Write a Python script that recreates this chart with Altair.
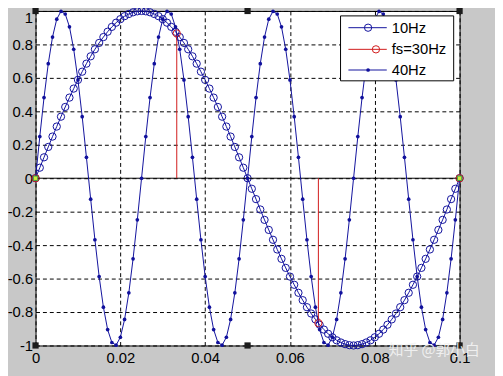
import altair as alt
import pandas as pd

# sample times in ms (0:1:100 ms -> 0..0.1 s)
t_ms = [0, 1, 2, 3, 4, 5, 6, 7, 8, 9, 10, 11, 12, 13, 14, 15, 16, 17, 18, 19,
        20, 21, 22, 23, 24, 25, 26, 27, 28, 29, 30, 31, 32, 33, 34, 35, 36, 37, 38, 39,
        40, 41, 42, 43, 44, 45, 46, 47, 48, 49, 50, 51, 52, 53, 54, 55, 56, 57, 58, 59,
        60, 61, 62, 63, 64, 65, 66, 67, 68, 69, 70, 71, 72, 73, 74, 75, 76, 77, 78, 79,
        80, 81, 82, 83, 84, 85, 86, 87, 88, 89, 90, 91, 92, 93, 94, 95, 96, 97, 98, 99,
        100]

# 10Hz series
v10 = [0, .063, .125, .187, .249, .309, .368, .426, .482, .536, .588, .637, .685,
       .729, .771, .809, .844, .876, .905, .930, .951, .969, .982, .992, .998, 1.0,
       .998, .992, .982, .969, .951, .930, .905, .876, .844, .809, .771, .729, .685,
       .637, .588, .536, .482, .426, .368, .309, .249, .187, .125, .063, 0,
       -.063, -.125, -.187, -.249, -.309, -.368, -.426, -.482, -.536, -.588, -.637,
       -.685, -.729, -.771, -.809, -.844, -.876, -.905, -.930, -.951, -.969, -.982,
       -.992, -.998, -1.0,
       -.998, -.992, -.982, -.969, -.951, -.930, -.905, -.876, -.844, -.809, -.771,
       -.729, -.685, -.637, -.588, -.536, -.482, -.426, -.368, -.309, -.249, -.187,
       -.125, -.063, 0]

# 40Hz series
v40 = [0, .249, .482, .685, .844, .951, .998, .982, .905, .771, .588, .368, .125,
       -.125, -.368, -.588, -.771, -.905, -.982, -.998, -.951, -.844, -.685, -.482, -.249,
       0, .249, .482, .685, .844, .951, .998, .982, .905, .771, .588, .368, .125,
       -.125, -.368, -.588, -.771, -.905, -.982, -.998, -.951, -.844, -.685, -.482, -.249,
       0, .249, .482, .685, .844, .951, .998, .982, .905, .771, .588, .368, .125,
       -.125, -.368, -.588, -.771, -.905, -.982, -.998, -.951, -.844, -.685, -.482, -.249,
       0, .249, .482, .685, .844, .951, .998, .982, .905, .771, .588, .368, .125,
       -.125, -.368, -.588, -.771, -.905, -.982, -.998, -.951, -.844, -.685, -.482, -.249,
       0]

# fs = 30Hz samples (stems)
stem_t = [0, 0.0333, 0.0667, 0.1]
stem_v = [0, 0.866, -0.866, 0]
stem_base = [0]

# axis ticks
x_ticks = [0, 0.02, 0.04, 0.06, 0.08, 0.1]
y_ticks = [-1, -0.8, -0.6, -0.4, -0.2, 0, 0.2, 0.4, 0.6, 0.8, 1]

# selection handles of the axes
handle_t = [0, 0.05, 0.1, 0, 0.05, 0.1]
handle_v = [1, 1, 1, -1, -1, -1]
side_t = [0, 0.1]
side_v = [0, 0]

legend_names = ["10Hz", "fs=30Hz", "40Hz"]
watermark = "知乎 @郭小白"

t = [m / 1000 for m in t_ms]
df10 = pd.DataFrame({"t": t, "v": v10})
df40 = pd.DataFrame({"t": t, "v": v40})
dfs = pd.DataFrame({"t": stem_t, "v": stem_v, "b": [stem_base[0]] * len(stem_t)})
dfbase = pd.DataFrame({"v": stem_base})
dfh = pd.DataFrame({"t": handle_t, "v": handle_v})
dfside = pd.DataFrame({"t": side_t, "v": side_v})
one = pd.DataFrame({"a": [0]})

BLUE = "#10109c"
RED = "#d01818"
FONT = "Liberation Sans"
label_expr = "replace(format(datum.value, '~g'), '\u2212', '-')"

X = alt.X("t:Q", scale=alt.Scale(domain=[0, 0.1], nice=False, zero=False),
          axis=alt.Axis(values=x_ticks, labelExpr=label_expr, grid=True, ticks=False,
                        domain=False, title=None, labelPadding=5, labelFontSize=15,
                        labelFont=FONT, labelColor="black", labelBaseline="top",
                        labelFlush=False, labelOverlap=False, gridColor="black",
                        gridDash=[4, 3], gridOpacity=1, gridWidth=1))
Y = alt.Y("v:Q", scale=alt.Scale(domain=[-1, 1], nice=False, zero=False),
          axis=alt.Axis(values=y_ticks, labelExpr=label_expr, grid=True, ticks=False,
                        domain=False, title=None, labelPadding=3, labelFontSize=15,
                        labelFont=FONT, labelColor="black",
                        labelBaseline={"condition": {"test": "datum.value == 1", "value": "top"},
                                       "value": "middle"},
                        labelFlush=False, labelOverlap=False, labelBound=False,
                        gridColor="black", gridDash=[4, 3], gridOpacity=1, gridWidth=1))

line10 = alt.Chart(df10).mark_line(color=BLUE, strokeWidth=1).encode(x=X, y=Y)
pts10 = alt.Chart(df10).mark_point(shape="circle", filled=False, color=BLUE,
                                   size=55, strokeWidth=1, opacity=1).encode(x=X, y=Y)

baseline = alt.Chart(dfbase).mark_rule(color="black", strokeWidth=1).encode(y=Y)

stems = alt.Chart(dfs).mark_rule(color=RED, strokeWidth=1).encode(x=X, y=Y, y2="b:Q")
stem_pts = alt.Chart(dfs).mark_point(shape="circle", filled=False, color=RED,
                                     size=55, strokeWidth=1, opacity=1).encode(x=X, y=Y)

line40 = alt.Chart(df40).mark_line(color=BLUE, strokeWidth=1).encode(x=X, y=Y)
pts40 = alt.Chart(df40).mark_point(shape="circle", filled=True, color=BLUE,
                                   size=14, opacity=1).encode(x=X, y=Y)

# legend (manual, MATLAB style)
lg_box = alt.Chart(one).mark_rect(fill="white", stroke="black", strokeWidth=1).encode(
    x=alt.value(310), x2=alt.value(425), y=alt.value(5), y2=alt.value(71))
lg_layers = []
rows = [17, 39, 60]
colors = [BLUE, RED, BLUE]
marker_x = [338, 346, 338]
for i, name in enumerate(legend_names):
    yy = rows[i]
    lg_layers.append(alt.Chart(one).mark_rule(color=colors[i], strokeWidth=1).encode(
        x=alt.value(318), x2=alt.value(357), y=alt.value(yy)))
    if i == 2:
        mk = alt.Chart(one).mark_point(shape="circle", filled=True, color=colors[i],
                                       size=14, opacity=1)
    else:
        mk = alt.Chart(one).mark_point(shape="circle", filled=False, color=colors[i],
                                       size=55, strokeWidth=1, opacity=1)
    lg_layers.append(mk.encode(x=alt.value(marker_x[i]), y=alt.value(yy)))
    lg_layers.append(alt.Chart(one).mark_text(text=name, align="left", baseline="middle",
                                              font=FONT, fontSize=15, color="black").encode(
        x=alt.value(362), y=alt.value(yy)))

handles = alt.Chart(dfh).mark_point(shape="square", filled=True, color="#1c1c1c",
                                    size=40, opacity=1).encode(x=X, y=Y)
side_handles = alt.Chart(dfside).mark_point(shape="square", filled=True, color="#d6e83a",
                                            stroke="#3aa040", strokeWidth=1,
                                            size=20, opacity=1).encode(x=X, y=Y)

wm = alt.Chart(one).mark_text(text=watermark, align="left", baseline="middle",
                              font="Noto Sans CJK SC", fontSize=15, color="#f4f4f4",
                              opacity=0.9).encode(x=alt.value(359), y=alt.value(345))

chart = alt.layer(line10, pts10, baseline, stems, stem_pts, line40, pts40,
                  lg_box, *lg_layers, side_handles, handles, wm).properties(
    width=431, height=340,
    autosize=alt.AutoSizeParams(type="none"),
    padding={"left": 28, "top": 0, "right": 36, "bottom": 28},
    background="#c8c8c8",
).configure_view(stroke="black", strokeWidth=1, fill="white"
).configure_axis(labelOverlap=False)

chart.save("out.html", embed_options={"renderer": "svg", "actions": False})
